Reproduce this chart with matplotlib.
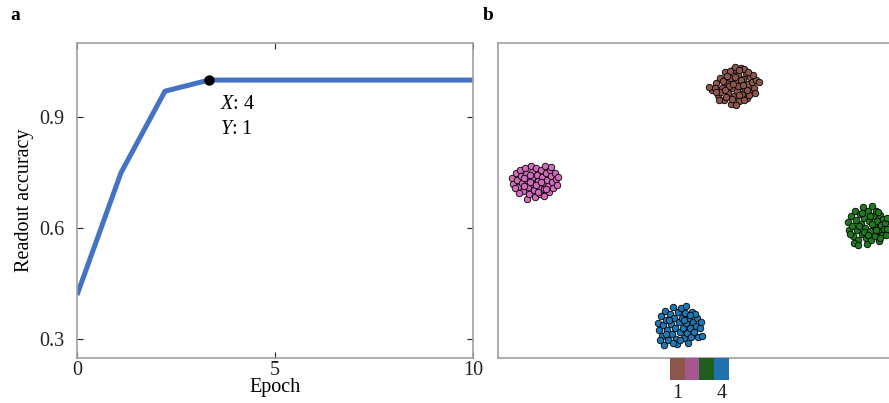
import numpy as np
import matplotlib
matplotlib.use("Agg")
import matplotlib.pyplot as plt
from matplotlib.colors import ListedColormap

plt.rcParams['font.family'] = ['Liberation Serif', 'DejaVu Serif']
plt.rcParams['mathtext.fontset'] = 'custom'
plt.rcParams['mathtext.rm'] = 'Liberation Serif'
plt.rcParams['mathtext.it'] = 'Liberation Serif:italic'

# ---- panel a data ----
epochs = np.linspace(0, 10, 10)
accuracy = [0.42, 0.75, 0.97, 1.0, 1.0, 1.0, 1.0, 1.0, 1.0, 1.0]
marked_idx = 3
xticks_a = [0, 5, 10]
yticks_a = [0.3, 0.6, 0.9]

# ---- panel b data (embedding coordinates) ----
brown_x = [712,716,718,720,722,724,725,727,728,730,731,732,733,734,736,737,738,739,740,741,742,743,745,746,747,748,750,751,752,754,756,759,715,719,723,726,729,735,738,741,744,749,753,709,730,736,744,732,727,747,739,720,733,743,725,748,755,716,735,739]
brown_y = [90,83,95,78,88,100,72,83,93,78,104,88,70,96,82,91,75,101,86,68,94,79,89,73,98,84,77,91,82,88,80,82,88,100,81,97,86,77,86,80,100,95,75,87,71,105,69,99,76,90,95,92,84,85,90,72,93,92,67,70]
pink_x = [512,513,516,517,518,520,521,522,523,525,526,527,527,528,529,531,532,532,533,534,535,536,537,538,539,540,541,542,543,544,545,546,547,548,549,550,551,552,553,555,556,557,558,515,519,524,530,536,541,546,551,524,538,544,530]
pink_y = [178,184,173,180,187,170,176,183,191,168,174,180,199,187,194,166,172,178,184,190,197,168,175,181,187,194,170,177,183,189,166,173,180,186,192,170,176,182,188,173,179,185,177,188,193,186,182,185,182,189,167,178,192,196,175]
green_x = [848,849,851,852,853,855,856,857,858,860,861,862,863,864,865,866,867,868,869,870,871,872,873,874,875,876,877,878,879,880,881,882,883,884,885,887,887,850,854,859,864,868,872,876,880,886,862,870,878,858]
green_y = [222,230,216,226,236,211,220,230,240,214,224,234,207,218,228,238,244,211,221,231,240,206,216,226,236,211,221,231,241,215,225,235,219,229,223,218,229,234,243,226,232,235,224,230,238,235,213,216,212,245]
blue_x = [658,659,661,662,663,665,666,667,668,670,671,672,673,674,675,676,677,678,679,680,681,682,683,684,685,686,687,688,689,690,691,692,693,694,696,697,698,700,701,660,664,669,680,686,695,702,673,684,690,666]
blue_y = [323,330,316,336,325,311,320,330,340,314,324,334,307,318,328,339,344,312,322,332,308,318,328,338,313,323,333,343,318,328,337,312,322,332,326,318,337,328,322,340,345,320,340,306,314,336,343,320,315,334]

scatter_colors = ['#8c564b', '#d06cbb', '#1f7a1f', '#1f77b4']
bar_colors = ['#8c564b', '#a5588f', '#1e5e20', '#1f72ad']
bar_ticklabels = ['1', '4']

fig = plt.figure(figsize=(8.89, 4.03), dpi=100)

spine_col = '#a0a0a0'
fs = 14.5

# ---- panel a ----
ax = fig.add_axes([77/889, 1-358/403, (473-77)/889, (358-43)/403])
ax.plot(epochs, accuracy, color='#4472c4', lw=3.6, solid_capstyle='butt', zorder=2)
ax.plot(epochs[marked_idx], accuracy[marked_idx], 'o', color='black', ms=6.5, zorder=3)
ax.set_xlim(0, 10)
ax.set_ylim(0.25, 1.1)
ax.set_xticks(xticks_a)
ax.set_yticks(yticks_a)
ax.set_yticklabels(['0.3', '0.6', '0.9'])
ax.tick_params(direction='in', top=True, right=True, length=4, width=0.8,
               labelsize=fs, colors='#222222', pad=2)
ax.tick_params(axis='y', pad=9)
for s in ax.spines.values():
    s.set_color(spine_col)
    s.set_linewidth(1.2)
ax.set_xlabel('Epoch', fontsize=fs, labelpad=-1)
ax.set_ylabel('Readout accuracy', fontsize=fs, labelpad=4)
ax.text(3.62, 0.935, r'$\it{X}$: 4', fontsize=fs, ha='left', va='center')
ax.text(3.62, 0.867, r'$\it{Y}$: 1', fontsize=fs, ha='left', va='center')

# ---- panel b ----
axb = fig.add_axes([498/889, 1-358/403, (905-498)/889, (358-43)/403])
axb.set_xlim(498, 905)
axb.set_ylim(358, 43)
for xs, ys, c in zip([brown_x, pink_x, green_x, blue_x],
                     [brown_y, pink_y, green_y, blue_y], scatter_colors):
    axb.scatter(xs, ys, s=22, c=c, edgecolors='black', linewidths=0.6, zorder=2)
axb.set_xticks([])
axb.set_yticks([])
for s in axb.spines.values():
    s.set_color(spine_col)
    s.set_linewidth(1.2)

# ---- colour bar ----
axc = fig.add_axes([670/889, 1-380/403, 59/889, 22/403])
axc.imshow(np.arange(4).reshape(1, 4), cmap=ListedColormap(bar_colors), aspect='auto')
axc.set_xticks([0, 3])
axc.set_xticklabels(bar_ticklabels)
axc.set_yticks([])
axc.tick_params(length=0, labelsize=fs, pad=3, colors='#222222')
for s in axc.spines.values():
    s.set_visible(False)

fig.text(10/889, 1-16/403, 'a', fontsize=14, fontweight='bold', va='center', ha='left')
fig.text(483/889, 1-16/403, 'b', fontsize=14, fontweight='bold', va='center', ha='left')

fig.savefig('out.png', dpi=100)
